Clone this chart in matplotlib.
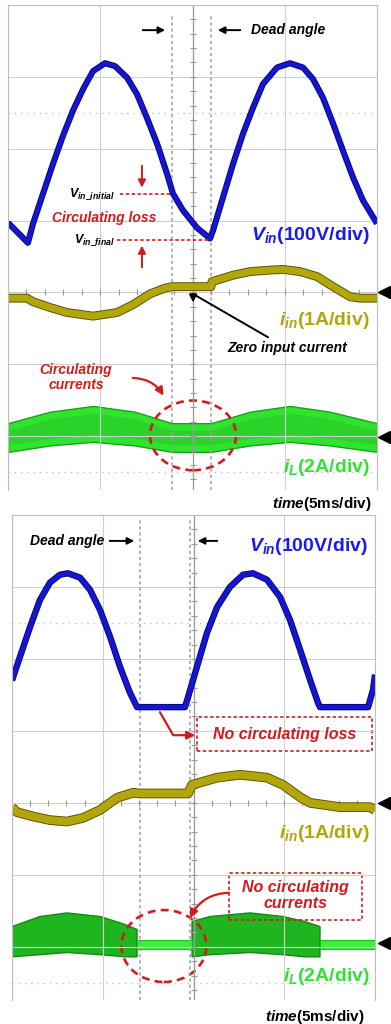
import numpy as np
import matplotlib.pyplot as plt
import matplotlib.patheffects as pe
from matplotlib.patches import Ellipse, Rectangle

plt.rcParams.update({
    'font.family': 'Liberation Sans',
    'font.weight': 'bold',
    'mathtext.fontset': 'custom',
    'mathtext.it': 'Liberation Sans:italic:bold',
    'mathtext.rm': 'Liberation Sans:bold',
    'mathtext.bf': 'Liberation Sans:bold',
})

# time in ms (5 ms/div, 4 div on screen), amplitude in screen divisions

# --- upper capture: with circulating currents ---
vin1_t = [0, 1.08, 1.36, 1.90, 2.44, 2.98, 3.52, 4.07, 4.61, 5.26, 5.80, 6.45, 6.99, 7.53,
          8.08, 8.62, 8.94, 9.49, 10.24, 10.95, 11.11, 11.65, 12.20, 12.74, 13.28, 13.82,
          14.58, 15.28, 15.99, 16.53, 17.07, 17.62, 18.16, 18.70, 19.24, 20.0]
vin1_v = [0.97, 0.69, 0.96, 1.375, 1.79, 2.18, 2.53, 2.83, 3.08, 3.19, 3.15, 2.99, 2.76, 2.43,
          2.07, 1.65, 1.375, 1.14, 0.90, 0.75, 0.86, 1.32, 1.79, 2.21, 2.57, 2.90,
          3.13, 3.19, 3.13, 2.97, 2.71, 2.35, 1.97, 1.60, 1.28, 0.96]

iin1_t = [0, 1.03, 1.36, 2.28, 3.20, 4.61, 5.91, 6.78, 7.70, 8.51, 8.89, 11.0, 11.06,
          12.20, 13.12, 14.20, 14.90, 15.83, 16.75, 17.62, 18.54, 19.08, 20.0]
iin1_v = [-0.08, -0.08, -0.13, -0.21, -0.28, -0.33, -0.28, -0.17, -0.02, 0.06, 0.08, 0.08, 0.15,
          0.24, 0.29, 0.31, 0.32, 0.29, 0.22, 0.08, -0.06, -0.08, -0.08]

il1_t = [0, 2.28, 4.61, 6.88, 8.89, 11.0, 13.12, 15.28, 17.45, 20.0]
il1_hi = [-1.82, -1.66, -1.58, -1.66, -1.82, -1.82, -1.66, -1.58, -1.66, -1.82]
il1_lo = [-2.22, -2.13, -2.08, -2.13, -2.22, -2.22, -2.13, -2.08, -2.13, -2.22]

dead1 = [8.89, 11.0]
vin_initial = 1.375
vin_final = 0.736

# --- lower capture: no circulating currents ---
vin2_t = [0, 0.44, 0.99, 1.54, 2.09, 2.64, 3.09, 3.75, 4.30, 4.85, 5.40, 5.95, 6.50, 6.89,
          9.53, 9.70, 10.19, 10.74, 11.30, 12.01, 12.73, 13.28, 14.05, 14.77, 15.32, 15.87,
          16.42, 16.86, 16.97, 19.62, 19.89, 20.0]
vin2_v = [1.70, 2.03, 2.44, 2.82, 3.06, 3.17, 3.19, 3.13, 2.96, 2.68, 2.31, 1.89, 1.53, 1.33,
          1.33, 1.47, 1.89, 2.36, 2.72, 3.00, 3.17, 3.19, 3.10, 2.86, 2.54, 2.13,
          1.71, 1.39, 1.33, 1.33, 1.57, 1.78]

iin2_t = [0, 0.28, 1.16, 2.09, 3.03, 3.91, 4.85, 5.79, 6.67, 7.05, 9.70, 9.92, 11.30,
          12.56, 14.05, 14.93, 15.87, 16.42, 18.07, 19.72, 20.0]
iin2_v = [-0.06, -0.13, -0.19, -0.24, -0.26, -0.21, -0.10, 0.07, 0.14, 0.13, 0.13, 0.25, 0.35,
          0.39, 0.35, 0.25, 0.08, 0.0, -0.06, -0.06, -0.10]

il2_t = [0, 1.54, 3.03, 4.85, 6.23, 6.89, 6.89, 9.92, 9.92, 10.91, 13.11, 14.93, 16.14,
         16.97, 16.97, 20.0]
il2_hi = [-1.72, -1.58, -1.53, -1.58, -1.69, -1.76, -1.90, -1.90, -1.65, -1.58, -1.53, -1.58,
          -1.65, -1.72, -1.90, -1.90]
il2_lo = [-2.14, -2.11, -2.08, -2.11, -2.14, -2.14, -2.03, -2.03, -2.14, -2.11, -2.08, -2.11,
          -2.14, -2.14, -2.03, -2.03]
il2_switching = [1, 1, 1, 1, 1, 1, 0, 0, 1, 1, 1, 1, 1, 1, 0, 0]

dead2 = [7.05, 9.81]

BLUE = '#1515d6'
OLIVE = '#b2a60c'
RED = '#d01c1c'
GRID = '#cfcfcf'


def scope_screen(ax):
    ax.set_xlim(0, 20)
    ax.set_xticks([0, 5, 10, 15, 20])
    ax.set_yticks([-2, -1, 0, 1, 2, 3])
    ax.grid(True, color=GRID, lw=0.8)
    ax.tick_params(length=0, labelbottom=False, labelleft=False)
    for s in ['top', 'left', 'right']:
        ax.spines[s].set_color('#bdbdbd')
    ax.spines['bottom'].set_visible(False)
    for y in [2.5, -2.5]:
        ax.axhline(y, color='#bbbbbb', lw=0.9, ls=(0, (1, 4)))
    # centre graticule with minor ticks
    ax.axvline(10, color='#9a9a9a', lw=0.9)
    yt = np.arange(-2.6, 4.0, 0.2)
    ax.plot(np.full(len(yt), 10), yt, ls='none', marker='_', ms=5, color='#9a9a9a', mew=0.8)
    xt = np.arange(1, 20, 1)
    ax.plot(xt, np.zeros(len(xt)), ls='none', marker='|', ms=4, color='#9a9a9a', mew=0.8)


def trace(ax, t, v, color, edge, lw):
    ax.plot(t, v, color=color, lw=lw, solid_joinstyle='round', solid_capstyle='butt',
            path_effects=[pe.Stroke(linewidth=lw + 1.4, foreground=edge), pe.Normal()])


def ch_marker(ax, x, y):
    ax.plot([x], [y], marker='<', color='black', ms=9, clip_on=False)


fig = plt.figure(figsize=(3.91, 10.24), dpi=100)
ax1 = fig.add_axes([8 / 391, 1 - 490 / 1024, 369 / 391, 485 / 1024])
ax2 = fig.add_axes([12 / 391, 1 - 1000 / 1024, 363 / 391, 485 / 1024])

# ================= upper capture =================
ax = ax1
ax.set_ylim(-2.75, 4.0)
scope_screen(ax)
ax.vlines(dead1, -2.75, 3.85, color='#9c9c9c', lw=1.1, ls=(0, (2, 2)))

ax.fill_between(il1_t, il1_lo, il1_hi, color='#2fe32f', edgecolor='#16a516', lw=1.0)
ax.fill_between(il1_t, np.array(il1_lo) + 0.1, np.array(il1_hi) - 0.1,
                color='#28c828', lw=0, alpha=0.6)
trace(ax, iin1_t, iin1_v, OLIVE, '#5c5600', 5.0)
trace(ax, vin1_t, vin1_v, BLUE, '#0a0a70', 3.0)

ch_marker(ax, 20.38, 0.0)
ch_marker(ax, 20.38, -2.01)

ax.annotate('', xy=(8.67, 3.65), xytext=(7.15, 3.65),
            arrowprops=dict(arrowstyle='-|>', color='black', lw=1.4, mutation_scale=10))
ax.annotate('', xy=(11.22, 3.65), xytext=(12.74, 3.65),
            arrowprops=dict(arrowstyle='-|>', color='black', lw=1.4, mutation_scale=10))
ax.text(13.17, 3.65, 'Dead angle', style='italic', fontsize=10, ha='left', va='center')

ax.hlines(vin_initial, 6.07, dead1[0], color=RED, lw=1.2, ls=(0, (2, 1.5)))
ax.hlines(vin_final, 5.91, dead1[1], color=RED, lw=1.2, ls=(0, (2, 1.5)))
ax.text(5.8, vin_initial, r'$V_{in\_initial}$', fontsize=9, ha='right', va='center')
ax.text(5.8, vin_final, r'$V_{in\_final}$', fontsize=9, ha='right', va='center')
ax.annotate('', xy=(7.26, 1.42), xytext=(7.26, 1.80),
            arrowprops=dict(arrowstyle='-|>', color=RED, lw=1.4, mutation_scale=11))
ax.annotate('', xy=(7.26, 0.69), xytext=(7.26, 0.31),
            arrowprops=dict(arrowstyle='-|>', color=RED, lw=1.4, mutation_scale=11))
ax.text(5.2, 1.03, 'Circulating loss', color=RED, style='italic', fontsize=10,
        ha='center', va='center')

ax.text(19.6, 0.79, r'$V_{in}$(100V/div)', color='#1a1aee', fontsize=14, ha='right', va='center')
ax.text(19.6, -0.39, r'$i_{in}$(1A/div)', color=OLIVE, fontsize=14, ha='right', va='center')
ax.text(19.6, -2.44, r'$i_L$(2A/div)', color='#33e233', fontsize=14, ha='right', va='center')

ax.annotate('Zero input current', xy=(10.03, -0.14), xytext=(11.9, -0.78),
            style='italic', fontsize=10, ha='left', va='center',
            arrowprops=dict(arrowstyle='-|>', color='black', lw=1.4, mutation_scale=11,
                            connectionstyle='angle,angleA=150,angleB=90,rad=0',
                            shrinkA=2, shrinkB=0))

ax.text(3.69, -1.19, 'Circulating\ncurrents', color=RED, style='italic', fontsize=10,
        ha='center', va='center', linespacing=1.1)
ax.annotate('', xy=(8.51, -1.47), xytext=(6.61, -1.19),
            arrowprops=dict(arrowstyle='-|>', color=RED, lw=1.6, mutation_scale=12,
                            connectionstyle='arc3,rad=-0.3'))
ax.add_patch(Ellipse((10.03, -1.99), 4.66, 0.97, fill=False, edgecolor=RED,
                     lw=1.9, ls=(0, (3, 2))))

ax.text(19.73, -2.94, r'$time$(5ms/div)', fontsize=11, ha='right', va='center')

# ================= lower capture =================
ax = ax2
ax.set_ylim(-2.74, 4.0)
scope_screen(ax)
ax.vlines(dead2, -2.74, 3.95, color='#9c9c9c', lw=1.1, ls=(0, (2, 2)))

sw = np.array(il2_switching) == 1
ax.fill_between(il2_t, il2_lo, il2_hi, where=sw, color='#1fb51f', edgecolor='#138a13', lw=1.0)
ax.fill_between(il2_t, il2_lo, il2_hi, where=~sw, color='#3cf03c', edgecolor='#20c020', lw=0.8)
trace(ax, iin2_t, iin2_v, OLIVE, '#5c5600', 5.6)
trace(ax, vin2_t, vin2_v, BLUE, '#0a0a70', 3.2)

ch_marker(ax, 20.5, 0.0)
ch_marker(ax, 20.5, -1.95)

ax.text(3.03, 3.64, 'Dead angle', style='italic', fontsize=10, ha='center', va='center')
ax.annotate('', xy=(6.89, 3.64), xytext=(5.23, 3.64),
            arrowprops=dict(arrowstyle='-|>', color='black', lw=1.4, mutation_scale=10))
ax.annotate('', xy=(10.08, 3.64), xytext=(11.46, 3.64),
            arrowprops=dict(arrowstyle='-|>', color='black', lw=1.4, mutation_scale=10))
ax.text(19.62, 3.56, r'$V_{in}$(100V/div)', color='#1a1aee', fontsize=14, ha='right', va='center')

ax.add_patch(Rectangle((10.19, 0.72), 9.65, 0.47, fill=False, edgecolor=RED, lw=1.2,
                       ls=(0, (2, 1.5))))
ax.text(15.0, 0.955, 'No circulating loss', color=RED, style='italic', fontsize=11.5,
        ha='center', va='center')
ax.annotate('', xy=(10.1, 0.94), xytext=(8.15, 1.26),
            arrowprops=dict(arrowstyle='-|>', color=RED, lw=1.6, mutation_scale=12,
                            connectionstyle='angle,angleA=-60,angleB=0,rad=0',
                            shrinkA=0, shrinkB=0))

ax.text(19.72, -0.42, r'$i_{in}$(1A/div)', color=OLIVE, fontsize=14, ha='right', va='center')

ax.add_patch(Rectangle((11.96, -1.625), 7.32, 0.655, fill=False, edgecolor=RED, lw=1.2,
                       ls=(0, (2, 1.5))))
ax.text(15.6, -1.29, 'No circulating\ncurrents', color=RED, style='italic', fontsize=11.5,
        ha='center', va='center', linespacing=1.1)
ax.annotate('', xy=(9.81, -1.60), xytext=(11.96, -1.25),
            arrowprops=dict(arrowstyle='-|>', color=RED, lw=1.6, mutation_scale=12,
                            connectionstyle='arc3,rad=0.3', shrinkA=0, shrinkB=0))
ax.add_patch(Ellipse((8.37, -1.99), 4.68, 1.0, fill=False, edgecolor=RED,
                     lw=1.9, ls=(0, (3, 2))))

ax.text(19.72, -2.42, r'$i_L$(2A/div)', color='#33e233', fontsize=14, ha='right', va='center')
ax.text(19.45, -2.97, r'$time$(5ms/div)', fontsize=11, ha='right', va='center')

fig.savefig('out.png', dpi=100)
